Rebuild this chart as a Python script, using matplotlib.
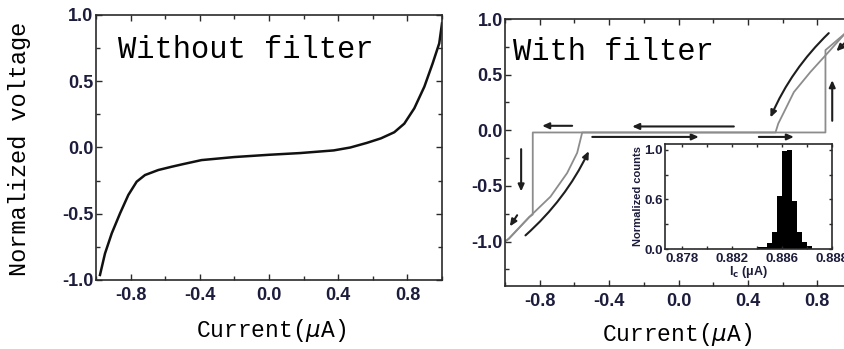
import matplotlib
matplotlib.use("Agg")
import matplotlib.pyplot as plt
from matplotlib.ticker import MultipleLocator, FormatStrFormatter, FixedLocator, FixedFormatter
from matplotlib.patches import FancyArrowPatch

plt.rcParams['axes.unicode_minus'] = False

# ---------------- data ----------------
# Left panel: I-V curve without filter
left_x = [-0.977, -0.948, -0.909, -0.861, -0.813, -0.765, -0.717, -0.64, -0.562, -0.495,
          -0.39, -0.2, 0.0, 0.18, 0.374, 0.47, 0.566, 0.647, 0.724, 0.782, 0.84, 0.898,
          0.946, 0.984, 1.0]
left_y = [-0.962, -0.80, -0.648, -0.497, -0.358, -0.258, -0.208, -0.17, -0.145, -0.125,
          -0.095, -0.072, -0.055, -0.042, -0.022, 0.0, 0.035, 0.069, 0.115, 0.18, 0.296,
          0.459, 0.635, 0.786, 0.937]

# Right panel: hysteretic I-V with filter (return sweep and forward sweep)
ret_x = [1.0, 0.962, 0.857, 0.761, 0.665, 0.607, 0.575, 0.559, -0.84, -0.84, -0.86, -0.978, -1.0]
ret_y = [0.97, 0.873, 0.69, 0.525, 0.343, 0.16, 0.06, -0.02, -0.02, -0.757, -0.78, -0.975, -1.0]
fwd_x = [-1.0, -0.978, -0.86, -0.738, -0.642, -0.584, -0.555, 0.847, 0.847, 0.962, 1.0]
fwd_y = [-1.0, -0.975, -0.78, -0.597, -0.385, -0.203, -0.02, -0.02, 0.72, 0.873, 0.97]

# sweep-direction arrows: (tail, head, curvature)
sweep_arrows = [
    ((0.866, 0.873), (0.53, 0.115), 0.10),
    ((0.968, 0.80), (0.91, 0.71), 0.0),
    ((0.886, 0.085), (0.886, 0.45), 0.0),
    ((0.319, 0.034), (-0.267, 0.034), 0.0),
    ((-0.613, 0.04), (-0.786, 0.04), 0.0),
    ((-0.497, -0.06), (0.117, -0.06), 0.0),
    ((0.463, -0.06), (0.665, -0.06), 0.0),
    ((-0.907, -0.17), (-0.907, -0.55), 0.0),
    ((-0.93, -0.764), (-0.972, -0.864), 0.0),
    ((-0.882, -0.945), (-0.517, -0.188), 0.10),
]

# Inset: histogram of switching current Ic
hist_edges = [0.8840, 0.8844, 0.8848, 0.8852, 0.8856, 0.8860, 0.8864, 0.8868,
              0.8872, 0.8876, 0.8880, 0.8884]
hist_counts = [0.02, 0.02, 0.06, 0.17, 0.535, 0.99, 1.0, 0.48, 0.17, 0.07, 0.03]
inset_xticks = [0.878, 0.882, 0.886, 0.890]
inset_xticklabels = ["0.878", "0.882", "0.886", "0.888"]
inset_yticks = [0.0, 0.5, 1.0]
inset_yticklabels = ["0.0", "0.6", "1.0"]

main_ticks = [-0.8, -0.4, 0.0, 0.4, 0.8]

# ---------------- style ----------------
TICK_COLOR = '#1c1c3c'
SPINE_COLOR = '#2a2a2a'
MONO = 'Liberation Mono'
SANS = 'Liberation Sans'

fig = plt.figure(figsize=(8.45, 3.49), dpi=100)

def style_axes(ax, xpad, ypad, fs=13):
    for s in ax.spines.values():
        s.set_color(SPINE_COLOR)
        s.set_linewidth(1.2)
    ax.tick_params(which='both', direction='in', top=True, right=True,
                   color=SPINE_COLOR, width=1.0)
    ax.tick_params(which='major', length=4)
    ax.tick_params(which='minor', length=3)
    ax.tick_params(axis='x', which='major', pad=xpad)
    ax.tick_params(axis='y', which='major', pad=ypad)
    for lab in ax.get_xticklabels() + ax.get_yticklabels():
        lab.set_fontfamily(SANS)
        lab.set_fontweight('bold')
        lab.set_fontsize(fs)
        lab.set_color(TICK_COLOR)

# ---- left panel ----
axL = fig.add_axes([96/845, (349-280)/349, 346/845, 265/349])
axL.plot(left_x, left_y, color='#111111', lw=1.8, solid_joinstyle='round')
axL.set_xlim(-1.0, 1.0)
axL.set_ylim(-1.0, 1.0)
axL.xaxis.set_major_locator(FixedLocator(main_ticks))
axL.xaxis.set_minor_locator(MultipleLocator(0.2))
axL.xaxis.set_major_formatter(FormatStrFormatter('%.1f'))
axL.yaxis.set_major_locator(MultipleLocator(0.5))
axL.yaxis.set_minor_locator(MultipleLocator(0.25))
axL.yaxis.set_major_formatter(FormatStrFormatter('%.1f'))
style_axes(axL, xpad=5, ypad=2)
axL.text(118/845, 1 - 58/349, 'Without filter', transform=fig.transFigure,
         fontfamily=MONO, fontsize=22, color='black', ha='left', va='baseline')

# ---- right panel ----
axR = fig.add_axes([505/845, (349-286)/349, 347/845, 267/349])
axR.plot(ret_x, ret_y, color='#8c8c8c', lw=1.3)
axR.plot(fwd_x, fwd_y, color='#8c8c8c', lw=1.3)
for (tail, head, rad) in sweep_arrows:
    arr = FancyArrowPatch(tail, head, arrowstyle='-|>,head_length=4,head_width=1.8',
                          connectionstyle=f'arc3,rad={rad}', color='#1e1e1e',
                          lw=1.5, shrinkA=0, shrinkB=0, mutation_scale=1)
    axR.add_patch(arr)
axR.set_xlim(-1.0, 1.0)
axR.set_ylim(-1.4, 1.0)
axR.xaxis.set_major_locator(FixedLocator(main_ticks))
axR.xaxis.set_minor_locator(MultipleLocator(0.2))
axR.xaxis.set_major_formatter(FormatStrFormatter('%.1f'))
axR.yaxis.set_major_locator(MultipleLocator(0.5))
axR.yaxis.set_minor_locator(MultipleLocator(0.25))
axR.yaxis.set_major_formatter(FormatStrFormatter('%.1f'))
style_axes(axR, xpad=5, ypad=1.5)
axR.text(513/845, 1 - 60/349, 'With filter', transform=fig.transFigure,
         fontfamily=MONO, fontsize=22, color='black', ha='left', va='baseline')

# ---- inset ----
axI = fig.add_axes([665/845, (349-249)/349, (832-665)/845, (249-144)/349])
axI.set_facecolor('white')
axI.stairs(hist_counts, hist_edges, fill=True, color='black')
axI.set_xlim(0.87664, 0.890)
axI.set_ylim(0.0, 1.06)
axI.xaxis.set_major_locator(FixedLocator(inset_xticks))
axI.xaxis.set_major_formatter(FixedFormatter(inset_xticklabels))
axI.xaxis.set_minor_locator(MultipleLocator(0.002))
axI.yaxis.set_major_locator(FixedLocator(inset_yticks))
axI.yaxis.set_major_formatter(FixedFormatter(inset_yticklabels))
axI.yaxis.set_minor_locator(MultipleLocator(0.25))
style_axes(axI, xpad=3, ypad=1.5, fs=9.5)
axI.tick_params(which='major', length=2.5)
axI.tick_params(which='minor', length=2)
axI.set_ylabel('Normalized counts', fontfamily=SANS, fontweight='bold',
               fontsize=8, color=TICK_COLOR, labelpad=1)
axI.set_xlabel(r'I$_\mathbf{c}$ (μA)', fontfamily=SANS, fontweight='bold',
               fontsize=9, color=TICK_COLOR, labelpad=-1)

# ---- axis labels ----
fig.text(20/845, 1 - 149/349, 'Normalized voltage', rotation=90, ha='center', va='center',
         fontfamily=MONO, fontsize=17, color='black')
fig.text(271/845, 1 - 330/349, r'Current($\mu$A)', ha='center', va='center',
         fontfamily=MONO, fontsize=16.5, color='black')
fig.text(677/845, 1 - 335/349, r'Current($\mu$A)', ha='center', va='center',
         fontfamily=MONO, fontsize=16.5, color='black')

fig.savefig('out.png', dpi=100)
